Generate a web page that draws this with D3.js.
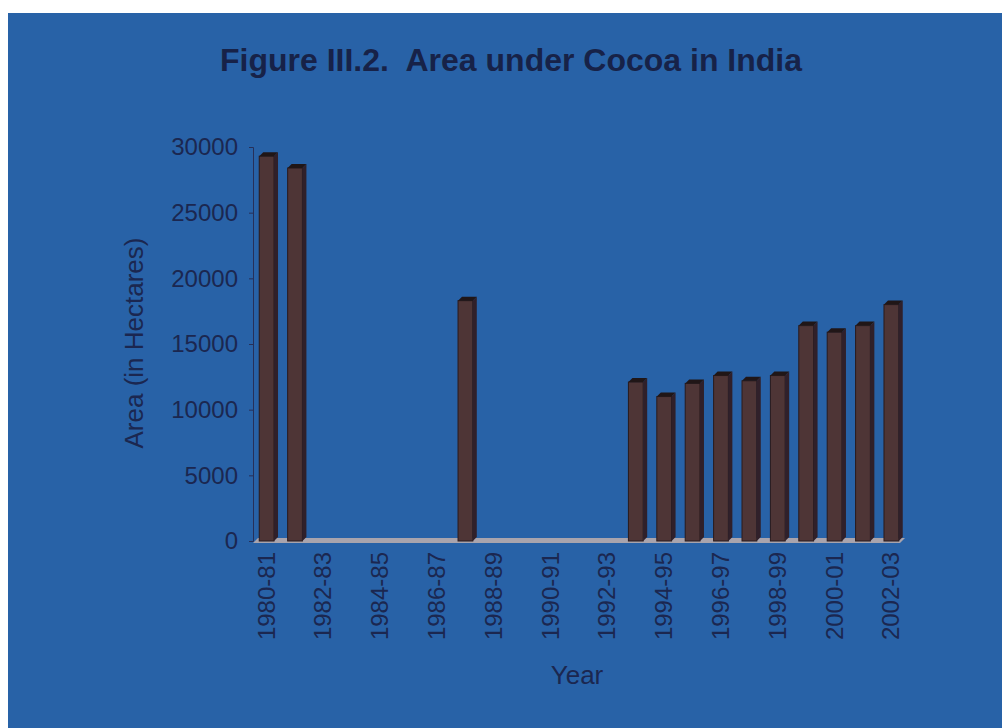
<!DOCTYPE html>
<html>
<head>
<meta charset="utf-8">
<script src="https://cdn.jsdelivr.net/npm/d3@7"></script>
<style>
  html, body { margin: 0; padding: 0; background: #fff; }
  svg { display: block; }
</style>
</head>
<body>
<svg></svg>
<script>
// years on the x axis
const years = ['1980-81', '1981-82', '1982-83', '1983-84', '1984-85', '1985-86',
  '1986-87', '1987-88', '1988-89', '1989-90', '1990-91', '1991-92', '1992-93',
  '1993-94', '1994-95', '1995-96', '1996-97', '1997-98', '1998-99', '1999-00',
  '2000-01', '2001-02', '2002-03'];

// area in hectares (null = no bar)
const area = [29300, 28400, null, null, null, null, null, 18300, null, null, null, null, null,
  12100, 11000, 12000, 12600, 12200, 12600, 16400, 15900, 16400, 18000];

const yearTicks = ['1980-81', '1982-83', '1984-85', '1986-87', '1988-89', '1990-91',
  '1992-93', '1994-95', '1996-97', '1998-99', '2000-01', '2002-03'];
const areaTicks = [0, 5000, 10000, 15000, 20000, 25000, 30000];

var width = 1002, height = 728;
var textCol = '#1b2750';
var font = 'Liberation Sans, Arial, sans-serif';

var svg = d3.select('svg')
    .attr('width', width)
    .attr('height', height);

// blue panel
svg.append('rect')
    .attr('x', 8).attr('y', 13)
    .attr('width', width - 8).attr('height', height - 13)
    .attr('fill', '#2862a7');

var x = d3.scaleBand()
    .domain(years)
    .range([253, 905])
    .paddingInner(0.48)
    .paddingOuter(0.22);

var y = d3.scaleLinear()
    .domain([0, 30000])
    .range([541, 147]);

// title
svg.append('text')
    .attr('x', 511).attr('y', 71)
    .attr('text-anchor', 'middle')
    .attr('font-family', font)
    .attr('font-weight', 'bold')
    .attr('font-size', 32)
    .attr('fill', '#172248')
    .style('white-space', 'pre')
    .text('Figure III.2.  Area under Cocoa in India');

// floor (3d)
var dx = 5, dy = 5;
svg.append('path')
    .attr('d', 'M253,' + (y(0) + 2) + ' L' + (905 - dx) + ',' + (y(0) + 2) +
      ' L905,' + (y(0) - dy + 2) + ' L' + (253 + dx) + ',' + (y(0) - dy + 2) + ' Z')
    .attr('fill', '#a9a4ad');

// y axis
var yAxis = d3.axisLeft(y)
    .tickValues(areaTicks)
    .tickFormat(d3.format('d'))
    .tickSize(4)
    .tickPadding(11);

var gy = svg.append('g')
    .attr('transform', 'translate(253,0)')
    .call(yAxis);
gy.select('.domain').attr('stroke', '#26305a').attr('stroke-width', 1);
gy.selectAll('.tick line').attr('stroke', '#26305a');
gy.selectAll('.tick text')
    .attr('font-family', font)
    .attr('font-size', 24)
    .attr('fill', textCol);

// x axis
var xAxis = d3.axisBottom(x)
    .tickValues(yearTicks)
    .tickSize(0)
    .tickPadding(0);

var gx = svg.append('g')
    .attr('transform', 'translate(0,' + (y(0) + 11) + ')')
    .call(xAxis);
gx.select('.domain').remove();
gx.selectAll('.tick text')
    .attr('font-family', font)
    .attr('font-size', 24)
    .attr('fill', textCol)
    .attr('text-anchor', 'end')
    .attr('dy', null)
    .attr('transform', 'rotate(-90)')
    .attr('x', 0)
    .attr('y', 8);

// bars
var bars = svg.append('g')
    .selectAll('g')
    .data(years.map(function(d, i) { return { year: d, v: area[i] }; })
      .filter(function(d) { return d.v != null; }))
    .enter()
    .append('g');

bars.append('rect')
    .attr('x', function(d) { return x(d.year); })
    .attr('y', function(d) { return y(d.v); })
    .attr('width', x.bandwidth())
    .attr('height', function(d) { return y(0) - y(d.v); })
    .attr('fill', '#4e3536')
    .attr('stroke', '#2a1a1c')
    .attr('stroke-width', 1);

bars.append('path')
    .attr('d', function(d) {
      var x1 = x(d.year) + x.bandwidth(), t = y(d.v), b = y(0);
      return 'M' + x1 + ',' + t + ' L' + (x1 + 4) + ',' + (t - 4) +
        ' L' + (x1 + 4) + ',' + (b - 4) + ' L' + x1 + ',' + b + ' Z';
    })
    .attr('fill', '#30202a');

bars.append('path')
    .attr('d', function(d) {
      var x0 = x(d.year), x1 = x0 + x.bandwidth(), t = y(d.v);
      return 'M' + x0 + ',' + t + ' L' + (x0 + 4) + ',' + (t - 4) +
        ' L' + (x1 + 4) + ',' + (t - 4) + ' L' + x1 + ',' + t + ' Z';
    })
    .attr('fill', '#201617');

// axis titles
svg.append('text')
    .attr('transform', 'translate(143,343) rotate(-90)')
    .attr('text-anchor', 'middle')
    .attr('font-family', font)
    .attr('font-size', 26)
    .attr('fill', textCol)
    .text('Area (in Hectares)');

svg.append('text')
    .attr('x', 577).attr('y', 684)
    .attr('text-anchor', 'middle')
    .attr('font-family', font)
    .attr('font-size', 26)
    .attr('fill', textCol)
    .text('Year');
</script>
</body>
</html>
